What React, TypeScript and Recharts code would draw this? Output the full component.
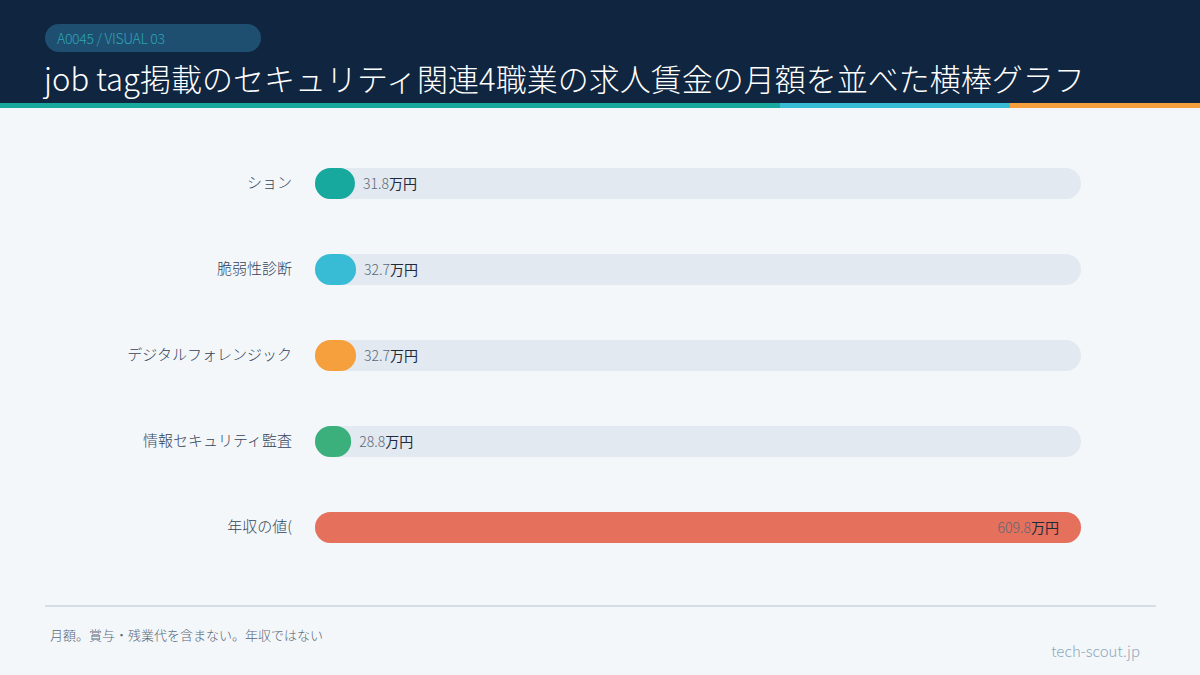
import React from "react";
import { BarChart, Bar, XAxis, YAxis, Cell, LabelList } from "recharts";

const categories = ["ション", "脆弱性診断", "デジタルフォレンジック", "情報セキュリティ監査", "年収の値("];
const values = [31.8, 32.7, 32.7, 28.8, 609.8];
const barColors = ["#17a89e", "#38bcd6", "#f5a03c", "#3bb07c", "#e5705b"];
const unit = "万円";
const title = "job tag掲載のセキュリティ関連4職業の求人賃金の月額を並べた横棒グラフ";
const badge = "A0045 / VISUAL 03";
const footnote = "月額。賞与・残業代を含まない。年収ではない";
const site = "tech-scout.jp";

const data = categories.map((name, i) => ({ name, value: values[i] }));

const FONT = "'Noto Sans CJK JP', 'Noto Sans', sans-serif";
const LIGHT = "'Noto Sans CJK JP Light', 'Noto Sans CJK JP DemiLight', 'Noto Sans CJK JP', sans-serif";

const ValueLabel = (props: any) => {
  const { x, y, width, height, value } = props;
  const inside = width > 200;
  const tx = inside ? x + width - 22 : x + width + 8;
  return (
    <text x={tx} y={y + height / 2} dy="0.36em" textAnchor={inside ? "end" : "start"} fontSize={14}>
      <tspan fill="#5b6878" fontFamily={LIGHT} fontWeight={300}>{value.toFixed(1)}</tspan>
      <tspan fill="#1e2b3c" fontFamily={FONT} fontWeight={400}>{unit}</tspan>
    </text>
  );
};

const CatTick = (props: any) => {
  const { y, payload } = props;
  return (
    <text x={292} y={y} dy="0.36em" textAnchor="end" fontFamily={LIGHT} fontSize={15} fontWeight={300} fill="#34445a">
      {payload.value}
    </text>
  );
};

export default function App() {
  return (
    <div style={{ position: "fixed", left: 0, top: 0, width: 1200, height: 675, background: "#f3f7fa", overflow: "hidden", fontFamily: LIGHT, fontWeight: 300 }}>
      <div style={{ position: "absolute", left: 0, top: 0, width: 1200, height: 103, background: "#10253f" }} />
      <div style={{ position: "absolute", left: 0, top: 103, width: 780, height: 5, background: "#17a89e" }} />
      <div style={{ position: "absolute", left: 780, top: 103, width: 230, height: 5, background: "#38bcd6" }} />
      <div style={{ position: "absolute", left: 1010, top: 103, width: 190, height: 5, background: "#f5a03c" }} />
      <div style={{ position: "absolute", left: 45, top: 24, width: 216, height: 28, borderRadius: 14, background: "#1f4f70" }} />
      <div style={{ position: "absolute", left: 57, top: 24, height: 28, lineHeight: "28px", fontSize: 14, color: "#2ea3b5", letterSpacing: -0.3 }}>{badge}</div>
      <div style={{ position: "absolute", left: 44, top: 56, height: 44, lineHeight: "44px", fontSize: 31, color: "#ffffff", whiteSpace: "nowrap" }}>{title}</div>
      <div style={{ position: "absolute", left: 45, top: 605, width: 1111, height: 2, background: "#d5dee5" }} />
      <div style={{ position: "absolute", left: 50, top: 625, fontSize: 13, color: "#5b6878", whiteSpace: "nowrap" }}>{footnote}</div>
      <div style={{ position: "absolute", right: 60, top: 640, fontSize: 15, color: "#8fa9bd", whiteSpace: "nowrap" }}>{site}</div>
      <div style={{ position: "absolute", left: 0, top: 0 }}>
        <BarChart
          width={1200}
          height={675}
          data={data}
          layout="vertical"
          margin={{ top: 140, bottom: 105, left: 0, right: 119 }}
          barSize={31}
        >
          <XAxis type="number" domain={[0, 609.8]} hide />
          <YAxis type="category" dataKey="name" width={315} axisLine={false} tickLine={false} tick={<CatTick />} />
          <Bar dataKey="value" isAnimationActive={false} radius={15.5} background={{ fill: "#e2e9f0", radius: 15.5 } as any}>
            {data.map((d, i) => (
              <Cell key={d.name} fill={barColors[i]} />
            ))}
            <LabelList dataKey="value" content={<ValueLabel />} />
          </Bar>
        </BarChart>
      </div>
    </div>
  );
}
